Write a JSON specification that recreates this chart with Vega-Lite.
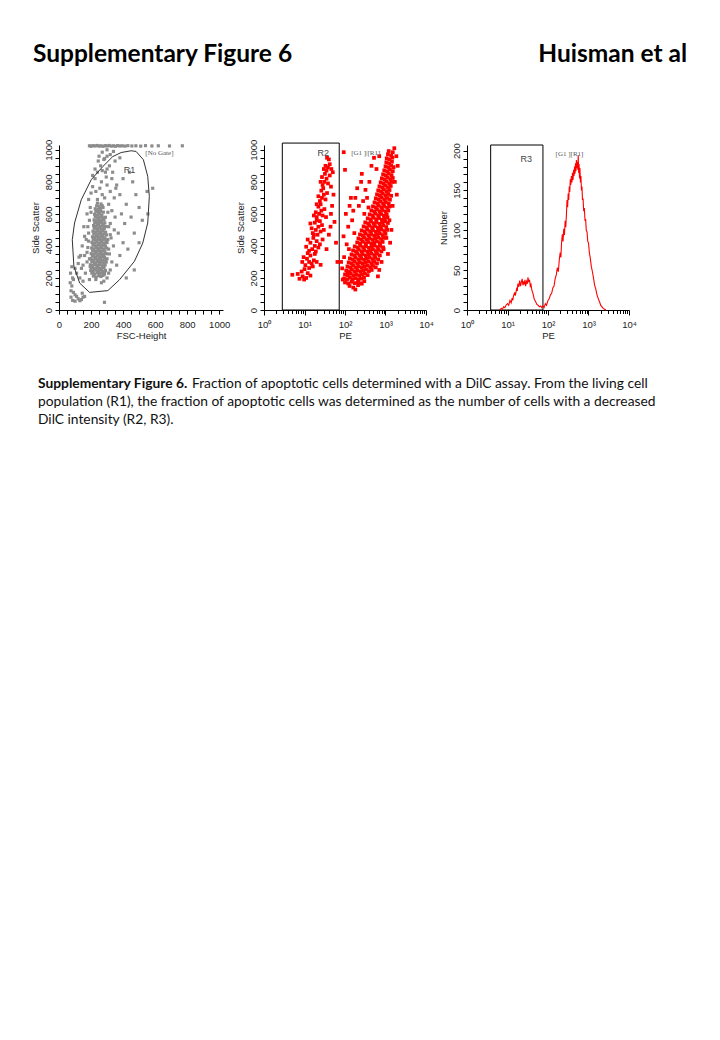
{
  "$schema": "https://vega.github.io/schema/vega-lite/v6.json",
  "background": "white",
  "padding": {"left": 30, "top": 42, "right": 0, "bottom": 0},
  "config": {
    "view": {"stroke": null},
    "axis": {"domainColor": "#000", "domainWidth": 1, "tickColor": "#000", "tickWidth": 1, "labelFont": "Liberation Sans", "labelFontSize": 9.5, "labelColor": "#222", "titleFont": "Liberation Sans", "titleFontSize": 9.5, "titleFontWeight": "normal", "titleColor": "#222", "grid": false, "labelFlush": false}
  },
  "spacing": 72,
  "vconcat": [
    {
      "width": 654, "height": 24,
      "data": {"values": [{"side": "left", "label": "Supplementary Figure 6"}, {"side": "right", "label": "Huisman et al"}]},
      "encoding": {"x": {"field": "side", "type": "nominal", "scale": {"type": "point", "domain": ["left", "right"], "padding": 0}, "axis": null}, "text": {"field": "label"}},
      "layer": [
        {"transform": [{"filter": "datum.side == 'left'"}], "mark": {"type": "text", "align": "left", "baseline": "middle", "font": "Lato", "fontSize": 24.5, "fontWeight": "bold", "color": "#000", "dx": -26}},
        {"transform": [{"filter": "datum.side == 'right'"}], "mark": {"type": "text", "align": "right", "baseline": "middle", "font": "Lato", "fontSize": 24.5, "fontWeight": "bold", "color": "#000", "dx": -26}}
      ]
    },
    {
      "spacing": 35,
      "vconcat": [
        {
          "spacing": 41,
          "bounds": "flush",
          "hconcat": [
            {
              "width": 164, "height": 165,
              "resolve": {"axis": {"x": "independent", "y": "independent"}},
              "layer": [
                {
                  "data": {"values": [
                    {"fsc":215,"ssc":212},{"fsc":232,"ssc":206},{"fsc":248,"ssc":214},{"fsc":262,"ssc":209},{"fsc":275,"ssc":216},
                    {"fsc":205,"ssc":230},{"fsc":222,"ssc":225},{"fsc":240,"ssc":232},{"fsc":255,"ssc":227},{"fsc":268,"ssc":233},{"fsc":284,"ssc":224},
                    {"fsc":198,"ssc":247},{"fsc":214,"ssc":242},{"fsc":231,"ssc":249},{"fsc":247,"ssc":244},{"fsc":260,"ssc":250},{"fsc":276,"ssc":241},{"fsc":290,"ssc":247},
                    {"fsc":203,"ssc":264},{"fsc":219,"ssc":259},{"fsc":236,"ssc":266},{"fsc":252,"ssc":261},{"fsc":266,"ssc":258},{"fsc":281,"ssc":265},
                    {"fsc":196,"ssc":282},{"fsc":211,"ssc":277},{"fsc":228,"ssc":284},{"fsc":244,"ssc":279},{"fsc":258,"ssc":283},{"fsc":272,"ssc":276},{"fsc":288,"ssc":281},
                    {"fsc":205,"ssc":300},{"fsc":222,"ssc":295},{"fsc":238,"ssc":302},{"fsc":251,"ssc":296},{"fsc":265,"ssc":301},{"fsc":279,"ssc":294},{"fsc":295,"ssc":299},
                    {"fsc":199,"ssc":317},{"fsc":215,"ssc":312},{"fsc":231,"ssc":319},{"fsc":246,"ssc":314},{"fsc":261,"ssc":318},{"fsc":276,"ssc":311},{"fsc":292,"ssc":316},
                    {"fsc":208,"ssc":335},{"fsc":224,"ssc":330},{"fsc":239,"ssc":336},{"fsc":254,"ssc":331},{"fsc":268,"ssc":334},{"fsc":284,"ssc":329},
                    {"fsc":201,"ssc":352},{"fsc":217,"ssc":347},{"fsc":233,"ssc":354},{"fsc":249,"ssc":348},{"fsc":263,"ssc":353},{"fsc":278,"ssc":346},{"fsc":296,"ssc":351},
                    {"fsc":210,"ssc":370},{"fsc":226,"ssc":365},{"fsc":242,"ssc":371},{"fsc":256,"ssc":366},{"fsc":271,"ssc":369},{"fsc":287,"ssc":364},
                    {"fsc":204,"ssc":387},{"fsc":219,"ssc":382},{"fsc":235,"ssc":389},{"fsc":250,"ssc":383},{"fsc":266,"ssc":388},{"fsc":281,"ssc":381},{"fsc":298,"ssc":386},
                    {"fsc":212,"ssc":405},{"fsc":228,"ssc":400},{"fsc":243,"ssc":406},{"fsc":258,"ssc":401},{"fsc":274,"ssc":404},{"fsc":290,"ssc":399},
                    {"fsc":206,"ssc":422},{"fsc":221,"ssc":417},{"fsc":237,"ssc":424},{"fsc":253,"ssc":418},{"fsc":268,"ssc":423},{"fsc":284,"ssc":416},{"fsc":300,"ssc":421},
                    {"fsc":214,"ssc":440},{"fsc":230,"ssc":435},{"fsc":246,"ssc":441},{"fsc":261,"ssc":436},{"fsc":276,"ssc":439},{"fsc":293,"ssc":434},
                    {"fsc":209,"ssc":457},{"fsc":225,"ssc":452},{"fsc":241,"ssc":459},{"fsc":256,"ssc":453},{"fsc":271,"ssc":458},{"fsc":287,"ssc":451},
                    {"fsc":217,"ssc":475},{"fsc":232,"ssc":470},{"fsc":248,"ssc":476},{"fsc":263,"ssc":471},{"fsc":279,"ssc":474},{"fsc":296,"ssc":469},
                    {"fsc":212,"ssc":492},{"fsc":228,"ssc":487},{"fsc":244,"ssc":494},{"fsc":259,"ssc":488},{"fsc":275,"ssc":493},{"fsc":291,"ssc":486},
                    {"fsc":220,"ssc":510},{"fsc":236,"ssc":505},{"fsc":251,"ssc":511},{"fsc":266,"ssc":506},{"fsc":283,"ssc":509},
                    {"fsc":216,"ssc":527},{"fsc":231,"ssc":522},{"fsc":247,"ssc":529},{"fsc":262,"ssc":523},{"fsc":278,"ssc":528},{"fsc":294,"ssc":521},
                    {"fsc":223,"ssc":545},{"fsc":239,"ssc":540},{"fsc":254,"ssc":546},{"fsc":270,"ssc":541},{"fsc":286,"ssc":544},
                    {"fsc":219,"ssc":562},{"fsc":235,"ssc":557},{"fsc":250,"ssc":564},{"fsc":265,"ssc":558},{"fsc":281,"ssc":563},
                    {"fsc":226,"ssc":580},{"fsc":242,"ssc":575},{"fsc":257,"ssc":581},{"fsc":273,"ssc":576},{"fsc":290,"ssc":579},
                    {"fsc":222,"ssc":597},{"fsc":238,"ssc":592},{"fsc":253,"ssc":599},{"fsc":268,"ssc":593},
                    {"fsc":230,"ssc":615},{"fsc":246,"ssc":610},{"fsc":261,"ssc":616},{"fsc":277,"ssc":611},
                    {"fsc":226,"ssc":632},{"fsc":243,"ssc":627},{"fsc":259,"ssc":633},
                    {"fsc":235,"ssc":650},{"fsc":251,"ssc":645},{"fsc":270,"ssc":651},
                    {"fsc":240,"ssc":667},{"fsc":262,"ssc":662},
                    {"fsc":150,"ssc":180},{"fsc":165,"ssc":230},{"fsc":140,"ssc":260},{"fsc":175,"ssc":300},{"fsc":160,"ssc":340},{"fsc":180,"ssc":390},{"fsc":170,"ssc":440},{"fsc":185,"ssc":480},{"fsc":155,"ssc":520},{"fsc":190,"ssc":560},{"fsc":175,"ssc":600},{"fsc":195,"ssc":640},{"fsc":185,"ssc":690},{"fsc":200,"ssc":730},{"fsc":210,"ssc":770},{"fsc":225,"ssc":820},{"fsc":240,"ssc":860},{"fsc":260,"ssc":900},{"fsc":280,"ssc":940},{"fsc":300,"ssc":960},
                    {"fsc":320,"ssc":250},{"fsc":330,"ssc":300},{"fsc":315,"ssc":350},{"fsc":340,"ssc":400},{"fsc":325,"ssc":450},{"fsc":345,"ssc":500},{"fsc":320,"ssc":540},{"fsc":350,"ssc":580},{"fsc":330,"ssc":620},{"fsc":310,"ssc":660},{"fsc":345,"ssc":700},{"fsc":320,"ssc":740},{"fsc":300,"ssc":780},{"fsc":330,"ssc":820},{"fsc":290,"ssc":860},{"fsc":315,"ssc":900},{"fsc":350,"ssc":930},{"fsc":380,"ssc":950},
                    {"fsc":360,"ssc":280},{"fsc":380,"ssc":340},{"fsc":400,"ssc":420},{"fsc":370,"ssc":480},{"fsc":410,"ssc":540},{"fsc":390,"ssc":600},{"fsc":420,"ssc":660},{"fsc":380,"ssc":720},{"fsc":360,"ssc":780},{"fsc":400,"ssc":820},{"fsc":440,"ssc":860},{"fsc":460,"ssc":800},{"fsc":480,"ssc":720},{"fsc":500,"ssc":640},{"fsc":450,"ssc":580},{"fsc":520,"ssc":560},{"fsc":470,"ssc":480},{"fsc":430,"ssc":380},{"fsc":500,"ssc":420},{"fsc":555,"ssc":600},{"fsc":585,"ssc":760},{"fsc":550,"ssc":740},{"fsc":470,"ssc":250},{"fsc":420,"ssc":200},
                    {"fsc":130,"ssc":200},{"fsc":110,"ssc":230},{"fsc":100,"ssc":260},{"fsc":90,"ssc":190},{"fsc":120,"ssc":290},{"fsc":135,"ssc":340},{"fsc":145,"ssc":400},{"fsc":160,"ssc":460},{"fsc":150,"ssc":280},{"fsc":125,"ssc":330},
                    {"fsc":190,"ssc":190},{"fsc":280,"ssc":180},{"fsc":300,"ssc":200},{"fsc":310,"ssc":230},{"fsc":230,"ssc":190},{"fsc":265,"ssc":170},{"fsc":240,"ssc":690},{"fsc":270,"ssc":720},{"fsc":255,"ssc":760},{"fsc":285,"ssc":700},{"fsc":230,"ssc":740},{"fsc":265,"ssc":800},{"fsc":295,"ssc":830},{"fsc":245,"ssc":930},{"fsc":270,"ssc":870},{"fsc":225,"ssc":880},{"fsc":210,"ssc":840},{"fsc":300,"ssc":880},{"fsc":335,"ssc":860},{"fsc":355,"ssc":760},{"fsc":275,"ssc":640},{"fsc":305,"ssc":610},{"fsc":200,"ssc":610},{"fsc":180,"ssc":520},{"fsc":310,"ssc":520},{"fsc":185,"ssc":430},{"fsc":305,"ssc":440},{"fsc":175,"ssc":360},{"fsc":310,"ssc":380},{"fsc":190,"ssc":320},{"fsc":300,"ssc":320},{"fsc":320,"ssc":470},{"fsc":195,"ssc":270},{"fsc":285,"ssc":240},
                    {"fsc":80,"ssc":150},{"fsc":75,"ssc":120},{"fsc":90,"ssc":110},{"fsc":70,"ssc":170},{"fsc":85,"ssc":200},{"fsc":100,"ssc":95},{"fsc":120,"ssc":70},{"fsc":140,"ssc":65},{"fsc":150,"ssc":80},{"fsc":85,"ssc":60},{"fsc":100,"ssc":55},{"fsc":130,"ssc":58},{"fsc":75,"ssc":80},{"fsc":110,"ssc":85},{"fsc":160,"ssc":85},{"fsc":145,"ssc":105},{"fsc":284,"ssc":48},{"fsc":72,"ssc":230},{"fsc":80,"ssc":270},
                    {"fsc":250,"ssc":960},{"fsc":270,"ssc":985},{"fsc":300,"ssc":1000},{"fsc":320,"ssc":970},{"fsc":285,"ssc":945},{"fsc":340,"ssc":990},
                    {"fsc":190,"ssc":1025},{"fsc":200,"ssc":1022},{"fsc":212,"ssc":1026},{"fsc":225,"ssc":1024},{"fsc":238,"ssc":1027},{"fsc":250,"ssc":1023},{"fsc":262,"ssc":1025},{"fsc":275,"ssc":1022},{"fsc":288,"ssc":1026},{"fsc":300,"ssc":1024},{"fsc":313,"ssc":1027},{"fsc":326,"ssc":1023},{"fsc":340,"ssc":1025},{"fsc":352,"ssc":1022},{"fsc":366,"ssc":1026},{"fsc":380,"ssc":1024},{"fsc":395,"ssc":1025},{"fsc":412,"ssc":1023},{"fsc":430,"ssc":1026},{"fsc":455,"ssc":1024},{"fsc":480,"ssc":1025},{"fsc":510,"ssc":1023},{"fsc":540,"ssc":1026},{"fsc":580,"ssc":1024},{"fsc":620,"ssc":1025},{"fsc":690,"ssc":1024},{"fsc":770,"ssc":1025}
                  ]},
                  "mark": {"type": "point", "shape": "square", "filled": true, "size": 10, "color": "#8c8c8c", "opacity": 1, "strokeWidth": 0},
                  "encoding": {
                    "x": {"field": "fsc", "type": "quantitative", "scale": {"domain": [0, 1024], "nice": false, "zero": false}, "axis": {"orient": "bottom", "title": "FSC-Height", "values": [0,200,400,600,800,1000], "format": "d", "tickSize": 4, "labelPadding": 5, "titlePadding": 2}},
                    "y": {"field": "ssc", "type": "quantitative", "scale": {"domain": [0, 1030], "nice": false, "zero": false}, "axis": {"orient": "left", "title": "Side Scatter", "values": [0,200,400,600,800,1000], "format": "d", "labelAngle": -90, "labelAlign": "center", "labelBaseline": "bottom", "tickSize": 4, "labelPadding": 2, "titlePadding": 3}}
                  }
                },
                {
                  "data": {"values": [
                    {"vertex":1,"fsc":388,"ssc":983},{"vertex":2,"fsc":450,"ssc":994},{"vertex":3,"fsc":481,"ssc":990},{"vertex":4,"fsc":527,"ssc":938},{"vertex":5,"fsc":554,"ssc":834},{"vertex":6,"fsc":564,"ssc":709},{"vertex":7,"fsc":554,"ssc":543},{"vertex":8,"fsc":523,"ssc":418},{"vertex":9,"fsc":471,"ssc":304},{"vertex":10,"fsc":378,"ssc":189},{"vertex":11,"fsc":305,"ssc":121},{"vertex":12,"fsc":191,"ssc":110},{"vertex":13,"fsc":129,"ssc":168},{"vertex":14,"fsc":93,"ssc":272},{"vertex":15,"fsc":83,"ssc":439},{"vertex":16,"fsc":97,"ssc":543},{"vertex":17,"fsc":139,"ssc":688},{"vertex":18,"fsc":201,"ssc":813},{"vertex":19,"fsc":274,"ssc":896},{"vertex":20,"fsc":336,"ssc":958},{"vertex":21,"fsc":388,"ssc":983}
                  ]},
                  "mark": {"type": "line", "color": "#333", "strokeWidth": 1},
                  "encoding": {
                    "x": {"field": "fsc", "type": "quantitative", "axis": {"orient": "bottom", "values": [50,100,150,250,300,350,450,500,550,650,700,750,850,900,950], "labels": false, "domain": false, "title": null, "tickSize": 4}},
                    "y": {"field": "ssc", "type": "quantitative", "axis": {"orient": "left", "values": [50,100,150,250,300,350,450,500,550,650,700,750,850,900,950], "labels": false, "domain": false, "title": null, "tickSize": 4}},
                    "order": {"field": "vertex", "type": "quantitative"}
                  }
                },
                {
                  "data": {"values": [{"fsc": 440, "ssc": 872, "label": "R1"}]},
                  "mark": {"type": "text", "font": "Liberation Sans", "fontSize": 9, "color": "#444"},
                  "encoding": {"x": {"field": "fsc", "type": "quantitative", "axis": null}, "y": {"field": "ssc", "type": "quantitative", "axis": null}, "text": {"field": "label"}}
                },
                {
                  "data": {"values": [{"fsc": 627, "ssc": 982, "label": "[No Gate]"}]},
                  "mark": {"type": "text", "font": "Liberation Serif", "fontSize": 7, "color": "#555"},
                  "encoding": {"x": {"field": "fsc", "type": "quantitative", "axis": null}, "y": {"field": "ssc", "type": "quantitative", "axis": null}, "text": {"field": "label"}}
                }
              ]
            },
            {
              "width": 162, "height": 165,
              "resolve": {"axis": {"x": "independent", "y": "independent"}},
              "layer": [
                {
                  "data": {"values": [{"lo": 2.83, "hi": 72, "bottom": 0, "top": 1042}]},
                  "mark": {"type": "rect", "fill": null, "filled": false, "stroke": "#000", "strokeWidth": 1},
                  "encoding": {"x": {"field": "lo", "type": "quantitative", "axis": null}, "x2": {"field": "hi"}, "y": {"field": "bottom", "type": "quantitative", "axis": {"orient": "left", "values": [50,100,150,250,300,350,450,500,550,650,700,750,850,900,950], "labels": false, "domain": false, "title": null, "tickSize": 4}}, "y2": {"field": "top"}}
                },
                {
                  "data": {"values": [
                    {"pe":7.5,"ssc":195},{"pe":9,"ssc":210},{"pe":11,"ssc":200},{"pe":8.5,"ssc":240},{"pe":12,"ssc":230},{"pe":10,"ssc":255},{"pe":14,"ssc":215},{"pe":13,"ssc":262},{"pe":6.8,"ssc":225},{"pe":9.8,"ssc":190},
                    {"pe":10.5,"ssc":280},{"pe":13,"ssc":300},{"pe":15,"ssc":290},{"pe":11.5,"ssc":320},{"pe":14,"ssc":340},{"pe":17,"ssc":310},{"pe":12,"ssc":355},{"pe":16,"ssc":272},{"pe":9.5,"ssc":330},{"pe":18,"ssc":350},{"pe":20,"ssc":300},{"pe":25,"ssc":282},{"pe":8.8,"ssc":300},
                    {"pe":13,"ssc":370},{"pe":15.5,"ssc":380},{"pe":18,"ssc":400},{"pe":14,"ssc":420},{"pe":20,"ssc":430},{"pe":16.5,"ssc":450},{"pe":22,"ssc":390},{"pe":12,"ssc":440},{"pe":19,"ssc":365},{"pe":24,"ssc":410},{"pe":17,"ssc":470},{"pe":28,"ssc":440},{"pe":35,"ssc":380},{"pe":11,"ssc":395},
                    {"pe":16,"ssc":480},{"pe":19,"ssc":500},{"pe":22,"ssc":520},{"pe":18,"ssc":545},{"pe":25,"ssc":490},{"pe":21,"ssc":470},{"pe":27,"ssc":530},{"pe":15,"ssc":510},{"pe":24,"ssc":555},{"pe":30,"ssc":500},{"pe":20,"ssc":560},{"pe":40,"ssc":470},{"pe":14,"ssc":540},
                    {"pe":20,"ssc":580},{"pe":23,"ssc":600},{"pe":26,"ssc":620},{"pe":22,"ssc":645},{"pe":28,"ssc":590},{"pe":25,"ssc":660},{"pe":31,"ssc":630},{"pe":19,"ssc":610},{"pe":34,"ssc":580},{"pe":45,"ssc":600},{"pe":17,"ssc":590},
                    {"pe":24,"ssc":680},{"pe":27,"ssc":700},{"pe":30,"ssc":720},{"pe":26,"ssc":745},{"pe":33,"ssc":690},{"pe":29,"ssc":760},{"pe":36,"ssc":730},{"pe":22,"ssc":710},{"pe":20,"ssc":660},
                    {"pe":28,"ssc":780},{"pe":31,"ssc":800},{"pe":35,"ssc":820},{"pe":32,"ssc":850},{"pe":38,"ssc":790},{"pe":27,"ssc":830},{"pe":42,"ssc":840},{"pe":45,"ssc":770},{"pe":25,"ssc":800},
                    {"pe":35,"ssc":870},{"pe":38,"ssc":890},{"pe":42,"ssc":910},{"pe":33,"ssc":900},{"pe":46,"ssc":880},{"pe":40,"ssc":940},{"pe":50,"ssc":860},{"pe":30,"ssc":880},{"pe":36,"ssc":950},
                    {"pe":55,"ssc":550},{"pe":60,"ssc":420},{"pe":65,"ssc":300},{"pe":48,"ssc":650},{"pe":5,"ssc":220},{"pe":52,"ssc":720},{"pe":44,"ssc":520},
                    {"pe":100,"ssc":172},{"pe":120,"ssc":165},{"pe":145,"ssc":176},{"pe":174,"ssc":168},{"pe":209,"ssc":174},{"pe":251,"ssc":166},
                    {"pe":95,"ssc":197},{"pe":112,"ssc":190},{"pe":132,"ssc":201},{"pe":155,"ssc":193},{"pe":182,"ssc":199},{"pe":214,"ssc":188},{"pe":251,"ssc":196},{"pe":295,"ssc":203},
                    {"pe":100,"ssc":222},{"pe":117,"ssc":215},{"pe":138,"ssc":226},{"pe":162,"ssc":217},{"pe":191,"ssc":224},{"pe":224,"ssc":213},{"pe":263,"ssc":221},{"pe":309,"ssc":228},{"pe":363,"ssc":218},
                    {"pe":107,"ssc":247},{"pe":126,"ssc":240},{"pe":148,"ssc":251},{"pe":174,"ssc":242},{"pe":204,"ssc":249},{"pe":240,"ssc":238},{"pe":282,"ssc":246},{"pe":331,"ssc":253},{"pe":389,"ssc":243},{"pe":457,"ssc":250},
                    {"pe":115,"ssc":272},{"pe":135,"ssc":265},{"pe":158,"ssc":276},{"pe":186,"ssc":267},{"pe":219,"ssc":274},{"pe":257,"ssc":263},{"pe":302,"ssc":271},{"pe":355,"ssc":278},{"pe":417,"ssc":268},{"pe":490,"ssc":275},{"pe":575,"ssc":266},
                    {"pe":123,"ssc":297},{"pe":145,"ssc":290},{"pe":170,"ssc":301},{"pe":200,"ssc":292},{"pe":234,"ssc":299},{"pe":275,"ssc":288},{"pe":324,"ssc":296},{"pe":380,"ssc":303},{"pe":447,"ssc":293},{"pe":525,"ssc":300},{"pe":617,"ssc":291},
                    {"pe":132,"ssc":322},{"pe":155,"ssc":315},{"pe":182,"ssc":326},{"pe":214,"ssc":317},{"pe":251,"ssc":324},{"pe":295,"ssc":313},{"pe":347,"ssc":321},{"pe":407,"ssc":328},{"pe":479,"ssc":318},{"pe":562,"ssc":325},{"pe":661,"ssc":316},
                    {"pe":145,"ssc":347},{"pe":170,"ssc":340},{"pe":200,"ssc":351},{"pe":234,"ssc":342},{"pe":275,"ssc":349},{"pe":324,"ssc":338},{"pe":380,"ssc":346},{"pe":447,"ssc":353},{"pe":525,"ssc":343},{"pe":617,"ssc":350},{"pe":724,"ssc":341},
                    {"pe":158,"ssc":372},{"pe":186,"ssc":365},{"pe":219,"ssc":376},{"pe":257,"ssc":367},{"pe":302,"ssc":374},{"pe":355,"ssc":363},{"pe":417,"ssc":371},{"pe":490,"ssc":378},{"pe":575,"ssc":368},{"pe":676,"ssc":375},{"pe":794,"ssc":366},
                    {"pe":174,"ssc":397},{"pe":204,"ssc":390},{"pe":240,"ssc":401},{"pe":282,"ssc":392},{"pe":331,"ssc":399},{"pe":389,"ssc":388},{"pe":457,"ssc":396},{"pe":537,"ssc":403},{"pe":631,"ssc":393},{"pe":741,"ssc":400},{"pe":871,"ssc":391},
                    {"pe":200,"ssc":422},{"pe":234,"ssc":415},{"pe":275,"ssc":426},{"pe":324,"ssc":417},{"pe":380,"ssc":424},{"pe":447,"ssc":413},{"pe":525,"ssc":421},{"pe":617,"ssc":428},{"pe":724,"ssc":418},{"pe":851,"ssc":425},
                    {"pe":214,"ssc":447},{"pe":251,"ssc":440},{"pe":295,"ssc":451},{"pe":347,"ssc":442},{"pe":407,"ssc":449},{"pe":479,"ssc":438},{"pe":562,"ssc":446},{"pe":661,"ssc":453},{"pe":776,"ssc":443},{"pe":912,"ssc":450},
                    {"pe":234,"ssc":472},{"pe":275,"ssc":465},{"pe":324,"ssc":476},{"pe":380,"ssc":467},{"pe":447,"ssc":474},{"pe":525,"ssc":463},{"pe":617,"ssc":471},{"pe":724,"ssc":478},{"pe":851,"ssc":468},{"pe":1000,"ssc":475},
                    {"pe":257,"ssc":497},{"pe":302,"ssc":490},{"pe":355,"ssc":501},{"pe":417,"ssc":492},{"pe":490,"ssc":499},{"pe":575,"ssc":488},{"pe":676,"ssc":496},{"pe":794,"ssc":503},{"pe":933,"ssc":493},{"pe":1096,"ssc":500},
                    {"pe":288,"ssc":522},{"pe":339,"ssc":515},{"pe":398,"ssc":526},{"pe":468,"ssc":517},{"pe":550,"ssc":524},{"pe":646,"ssc":513},{"pe":759,"ssc":521},{"pe":891,"ssc":528},{"pe":1047,"ssc":518},
                    {"pe":316,"ssc":547},{"pe":372,"ssc":540},{"pe":437,"ssc":551},{"pe":513,"ssc":542},{"pe":603,"ssc":549},{"pe":708,"ssc":538},{"pe":832,"ssc":546},{"pe":977,"ssc":553},{"pe":1148,"ssc":543},
                    {"pe":363,"ssc":572},{"pe":427,"ssc":565},{"pe":501,"ssc":576},{"pe":589,"ssc":567},{"pe":692,"ssc":574},{"pe":813,"ssc":563},{"pe":955,"ssc":571},{"pe":1122,"ssc":578},
                    {"pe":407,"ssc":597},{"pe":479,"ssc":590},{"pe":562,"ssc":601},{"pe":661,"ssc":592},{"pe":776,"ssc":599},{"pe":912,"ssc":588},{"pe":1072,"ssc":596},
                    {"pe":447,"ssc":622},{"pe":525,"ssc":615},{"pe":617,"ssc":626},{"pe":724,"ssc":617},{"pe":851,"ssc":624},{"pe":1000,"ssc":613},{"pe":1175,"ssc":621},
                    {"pe":490,"ssc":647},{"pe":575,"ssc":640},{"pe":676,"ssc":651},{"pe":794,"ssc":642},{"pe":933,"ssc":649},{"pe":1096,"ssc":638},{"pe":1259,"ssc":646},
                    {"pe":537,"ssc":672},{"pe":631,"ssc":665},{"pe":741,"ssc":676},{"pe":871,"ssc":667},{"pe":1023,"ssc":674},{"pe":1202,"ssc":663},
                    {"pe":575,"ssc":697},{"pe":676,"ssc":690},{"pe":794,"ssc":701},{"pe":933,"ssc":692},{"pe":1096,"ssc":699},{"pe":1288,"ssc":688},
                    {"pe":617,"ssc":722},{"pe":724,"ssc":715},{"pe":851,"ssc":726},{"pe":1000,"ssc":717},{"pe":1175,"ssc":724},{"pe":1380,"ssc":713},
                    {"pe":661,"ssc":747},{"pe":776,"ssc":740},{"pe":912,"ssc":751},{"pe":1072,"ssc":742},{"pe":1259,"ssc":749},
                    {"pe":708,"ssc":772},{"pe":832,"ssc":765},{"pe":977,"ssc":776},{"pe":1148,"ssc":767},{"pe":1349,"ssc":774},
                    {"pe":759,"ssc":797},{"pe":891,"ssc":790},{"pe":1047,"ssc":801},{"pe":1230,"ssc":792},{"pe":1445,"ssc":799},
                    {"pe":813,"ssc":822},{"pe":955,"ssc":815},{"pe":1122,"ssc":826},{"pe":1318,"ssc":817},{"pe":1514,"ssc":824},
                    {"pe":871,"ssc":847},{"pe":1023,"ssc":840},{"pe":1202,"ssc":851},{"pe":1413,"ssc":842},
                    {"pe":933,"ssc":872},{"pe":1096,"ssc":865},{"pe":1288,"ssc":876},{"pe":1514,"ssc":867},
                    {"pe":1000,"ssc":897},{"pe":1175,"ssc":890},{"pe":1380,"ssc":901},{"pe":1585,"ssc":892},
                    {"pe":1047,"ssc":922},{"pe":1230,"ssc":915},{"pe":1445,"ssc":926},
                    {"pe":1072,"ssc":947},{"pe":1259,"ssc":940},{"pe":1479,"ssc":951},
                    {"pe":1148,"ssc":972},{"pe":1380,"ssc":965},
                    {"pe":1202,"ssc":992},{"pe":1514,"ssc":985},
                    {"pe":85,"ssc":260},{"pe":95,"ssc":330},{"pe":110,"ssc":410},{"pe":92,"ssc":460},{"pe":120,"ssc":520},{"pe":105,"ssc":600},{"pe":130,"ssc":650},{"pe":150,"ssc":560},{"pe":140,"ssc":700},{"pe":100,"ssc":875},{"pe":115,"ssc":235},{"pe":88,"ssc":190},{"pe":160,"ssc":620},{"pe":180,"ssc":700},{"pe":200,"ssc":760},{"pe":220,"ssc":650},{"pe":170,"ssc":480},{"pe":250,"ssc":800},{"pe":80,"ssc":300},{"pe":125,"ssc":380},
                    {"pe":130,"ssc":150},{"pe":160,"ssc":140},{"pe":210,"ssc":155},{"pe":260,"ssc":165},{"pe":180,"ssc":128},{"pe":300,"ssc":180},
                    {"pe":900,"ssc":380},{"pe":1050,"ssc":450},{"pe":1250,"ssc":560},{"pe":1500,"ssc":650},{"pe":1700,"ssc":800},{"pe":2000,"ssc":900},{"pe":1850,"ssc":960},{"pe":1400,"ssc":500},{"pe":1150,"ssc":350},{"pe":800,"ssc":300},{"pe":700,"ssc":250},{"pe":650,"ssc":210},{"pe":1650,"ssc":1010},{"pe":1900,"ssc":720},{"pe":1300,"ssc":420},
                    {"pe":300,"ssc":600},{"pe":350,"ssc":700},{"pe":400,"ssc":800},{"pe":260,"ssc":850},{"pe":450,"ssc":900},{"pe":520,"ssc":950},{"pe":320,"ssc":750},{"pe":280,"ssc":680},{"pe":600,"ssc":880},{"pe":380,"ssc":640},{"pe":700,"ssc":960},{"pe":93,"ssc":985}
                  ]},
                  "mark": {"type": "point", "shape": "square", "filled": true, "size": 14, "color": "#ff0000", "opacity": 1, "strokeWidth": 0},
                  "encoding": {
                    "x": {"field": "pe", "type": "quantitative", "scale": {"type": "log", "domain": [1, 10000], "nice": false}, "axis": {"orient": "bottom", "title": "PE", "values": [1,2,3,4,5,6,7,8,9,10,20,30,40,50,60,70,80,90,100,200,300,400,500,600,700,800,900,1000,2000,3000,4000,5000,6000,7000,8000,9000,10000], "labelExpr": "datum.value == 1 ? '10⁰' : datum.value == 10 ? '10¹' : datum.value == 100 ? '10²' : datum.value == 1000 ? '10³' : datum.value == 10000 ? '10⁴' : ''", "labelOverlap": false, "tickSize": {"condition": {"test": "datum.value == 1 || datum.value == 10 || datum.value == 100 || datum.value == 1000 || datum.value == 10000", "value": 5}, "value": 3.5}, "labelPadding": 4, "titlePadding": 2}},
                    "y": {"field": "ssc", "type": "quantitative", "scale": {"domain": [0, 1030], "nice": false, "zero": false}, "axis": {"orient": "left", "title": "Side Scatter", "values": [0,200,400,600,800,1000], "format": "d", "labelAngle": -90, "labelAlign": "center", "labelBaseline": "bottom", "tickSize": 4, "labelPadding": 2, "titlePadding": 3}}
                  }
                },
                {
                  "data": {"values": [{"pe": 29, "ssc": 978, "label": "R2"}]},
                  "mark": {"type": "text", "font": "Liberation Sans", "fontSize": 9, "color": "#444"},
                  "encoding": {"x": {"field": "pe", "type": "quantitative", "axis": null}, "y": {"field": "ssc", "type": "quantitative", "axis": null}, "text": {"field": "label"}}
                },
                {
                  "data": {"values": [{"pe": 325, "ssc": 980, "label": "[G1 ]|[R1]"}]},
                  "mark": {"type": "text", "font": "Liberation Serif", "fontSize": 7, "color": "#555"},
                  "encoding": {"x": {"field": "pe", "type": "quantitative", "axis": null}, "y": {"field": "ssc", "type": "quantitative", "axis": null}, "text": {"field": "label"}}
                }
              ]
            },
            {
              "width": 162, "height": 165,
              "resolve": {"axis": {"x": "independent", "y": "independent"}},
              "layer": [
                {
                  "data": {"values": [{"lo": 3.84, "hi": 75, "bottom": 0, "top": 207}]},
                  "mark": {"type": "rect", "fill": null, "filled": false, "stroke": "#000", "strokeWidth": 1},
                  "encoding": {"x": {"field": "lo", "type": "quantitative", "axis": null}, "x2": {"field": "hi"}, "y": {"field": "bottom", "type": "quantitative", "axis": {"orient": "left", "values": [10,20,30,40,60,70,80,90,110,120,130,140,160,170,180,190], "labels": false, "domain": false, "title": null, "tickSize": 4}}, "y2": {"field": "top"}}
                },
                {
                  "data": {"values": [
                    {"pe":6.4,"count":0},{"pe":7,"count":2},{"pe":7.5,"count":1},{"pe":8,"count":4},{"pe":8.6,"count":3},{"pe":9.2,"count":6},{"pe":10,"count":8},{"pe":10.7,"count":6},{"pe":11.5,"count":12},{"pe":12.3,"count":9},{"pe":13,"count":15},{"pe":13.5,"count":12},{"pe":14,"count":17},{"pe":15,"count":22},{"pe":15.5,"count":18},{"pe":16,"count":21},{"pe":17,"count":28},{"pe":17.5,"count":24},{"pe":18,"count":33},{"pe":19,"count":29},{"pe":20,"count":37},{"pe":21,"count":30},{"pe":22,"count":35},{"pe":23,"count":39},{"pe":24,"count":31},{"pe":25,"count":36},{"pe":26,"count":32},{"pe":27,"count":38},{"pe":28,"count":30},{"pe":29.5,"count":36},{"pe":31,"count":33},{"pe":32,"count":41},{"pe":33.5,"count":35},{"pe":35,"count":38},{"pe":36.5,"count":30},{"pe":38,"count":32},{"pe":40,"count":25},{"pe":43,"count":20},{"pe":46,"count":13},{"pe":49,"count":11},{"pe":53,"count":7},{"pe":57,"count":6},{"pe":61,"count":4},{"pe":66,"count":5},{"pe":70,"count":3},{"pe":75,"count":5},{"pe":80,"count":3},{"pe":86,"count":8},{"pe":92,"count":6},{"pe":100,"count":12},{"pe":107,"count":14},{"pe":115,"count":19},{"pe":123,"count":21},{"pe":132,"count":28},{"pe":141,"count":30},{"pe":150,"count":39},{"pe":160,"count":44},{"pe":170,"count":53},{"pe":180,"count":48},{"pe":190,"count":63},{"pe":200,"count":72},{"pe":208,"count":66},{"pe":216,"count":84},{"pe":226,"count":95},{"pe":235,"count":86},{"pe":245,"count":102},{"pe":255,"count":94},{"pe":265,"count":112},{"pe":275,"count":104},{"pe":285,"count":120},{"pe":295,"count":138},{"pe":305,"count":129},{"pe":315,"count":146},{"pe":325,"count":138},{"pe":335,"count":155},{"pe":345,"count":148},{"pe":355,"count":164},{"pe":365,"count":157},{"pe":378,"count":168},{"pe":390,"count":160},{"pe":402,"count":172},{"pe":415,"count":163},{"pe":428,"count":176},{"pe":440,"count":168},{"pe":452,"count":180},{"pe":465,"count":171},{"pe":478,"count":184},{"pe":490,"count":174},{"pe":503,"count":188},{"pe":516,"count":178},{"pe":530,"count":186},{"pe":545,"count":176},{"pe":558,"count":194},{"pe":572,"count":172},{"pe":585,"count":183},{"pe":600,"count":165},{"pe":615,"count":178},{"pe":632,"count":160},{"pe":650,"count":168},{"pe":670,"count":150},{"pe":690,"count":155},{"pe":710,"count":138},{"pe":735,"count":140},{"pe":760,"count":124},{"pe":790,"count":128},{"pe":820,"count":112},{"pe":850,"count":114},{"pe":880,"count":100},{"pe":920,"count":98},{"pe":960,"count":86},{"pe":1000,"count":84},{"pe":1050,"count":72},{"pe":1100,"count":66},{"pe":1170,"count":55},{"pe":1250,"count":48},{"pe":1330,"count":40},{"pe":1420,"count":31},{"pe":1520,"count":26},{"pe":1620,"count":19},{"pe":1750,"count":14},{"pe":1880,"count":10},{"pe":2000,"count":6},{"pe":2150,"count":4},{"pe":2300,"count":2},{"pe":2500,"count":1},{"pe":2700,"count":0}
                  ]},
                  "mark": {"type": "line", "color": "#ff0000", "strokeWidth": 1.1},
                  "encoding": {
                    "x": {"field": "pe", "type": "quantitative", "scale": {"type": "log", "domain": [1, 10000], "nice": false}, "axis": {"orient": "bottom", "title": "PE", "values": [1,2,3,4,5,6,7,8,9,10,20,30,40,50,60,70,80,90,100,200,300,400,500,600,700,800,900,1000,2000,3000,4000,5000,6000,7000,8000,9000,10000], "labelExpr": "datum.value == 1 ? '10⁰' : datum.value == 10 ? '10¹' : datum.value == 100 ? '10²' : datum.value == 1000 ? '10³' : datum.value == 10000 ? '10⁴' : ''", "labelOverlap": false, "tickSize": {"condition": {"test": "datum.value == 1 || datum.value == 10 || datum.value == 100 || datum.value == 1000 || datum.value == 10000", "value": 5}, "value": 3.5}, "labelPadding": 4, "titlePadding": 2}},
                    "y": {"field": "count", "type": "quantitative", "scale": {"domain": [0, 207], "nice": false, "zero": false}, "axis": {"orient": "left", "title": "Number", "values": [0,50,100,150,200], "format": "d", "labelAngle": -90, "labelAlign": "center", "labelBaseline": "bottom", "tickSize": 4, "labelPadding": 2, "titlePadding": 3}}
                  }
                },
                {
                  "data": {"values": [{"pe": 29, "count": 190, "label": "R3"}]},
                  "mark": {"type": "text", "font": "Liberation Sans", "fontSize": 9, "color": "#444"},
                  "encoding": {"x": {"field": "pe", "type": "quantitative", "axis": null}, "y": {"field": "count", "type": "quantitative", "axis": null}, "text": {"field": "label"}}
                },
                {
                  "data": {"values": [{"pe": 340, "count": 196, "label": "[G1 ][R1]"}]},
                  "mark": {"type": "text", "font": "Liberation Serif", "fontSize": 7, "color": "#555"},
                  "encoding": {"x": {"field": "pe", "type": "quantitative", "axis": null}, "y": {"field": "count", "type": "quantitative", "axis": null}, "text": {"field": "label"}}
                }
              ]
            }
          ]
        },
        {
          "width": 640, "height": 54,
          "data": {"values": [
            {"line": 1, "part": "lead", "text": "Supplementary Figure 6."},
            {"line": 1, "part": "cont", "text": "Fraction of apoptotic cells determined with a DilC assay. From the living cell"},
            {"line": 2, "part": "body", "text": "population (R1), the fraction of apoptotic cells was determined as the number of cells with a decreased"},
            {"line": 3, "part": "body", "text": "DilC intensity (R2, R3)."}
          ]},
          "encoding": {
            "x": {"datum": 0, "type": "quantitative", "scale": {"domain": [0, 1]}, "axis": null},
            "y": {"field": "line", "type": "ordinal", "scale": {"type": "point", "padding": 0.5}, "axis": null},
            "text": {"field": "text"}
          },
          "layer": [
            {"transform": [{"filter": "datum.part == 'lead'"}], "mark": {"type": "text", "align": "left", "baseline": "middle", "font": "Lato", "fontSize": 13.8, "fontWeight": "bold", "color": "#111", "dx": -21}},
            {"transform": [{"filter": "datum.part == 'cont'"}], "mark": {"type": "text", "align": "left", "baseline": "middle", "font": "Lato", "fontSize": 13.8, "color": "#111", "dx": 133}},
            {"transform": [{"filter": "datum.part == 'body'"}], "mark": {"type": "text", "align": "left", "baseline": "middle", "font": "Lato", "fontSize": 13.8, "color": "#111", "dx": -21}}
          ]
        }
      ]
    }
  ]
}
